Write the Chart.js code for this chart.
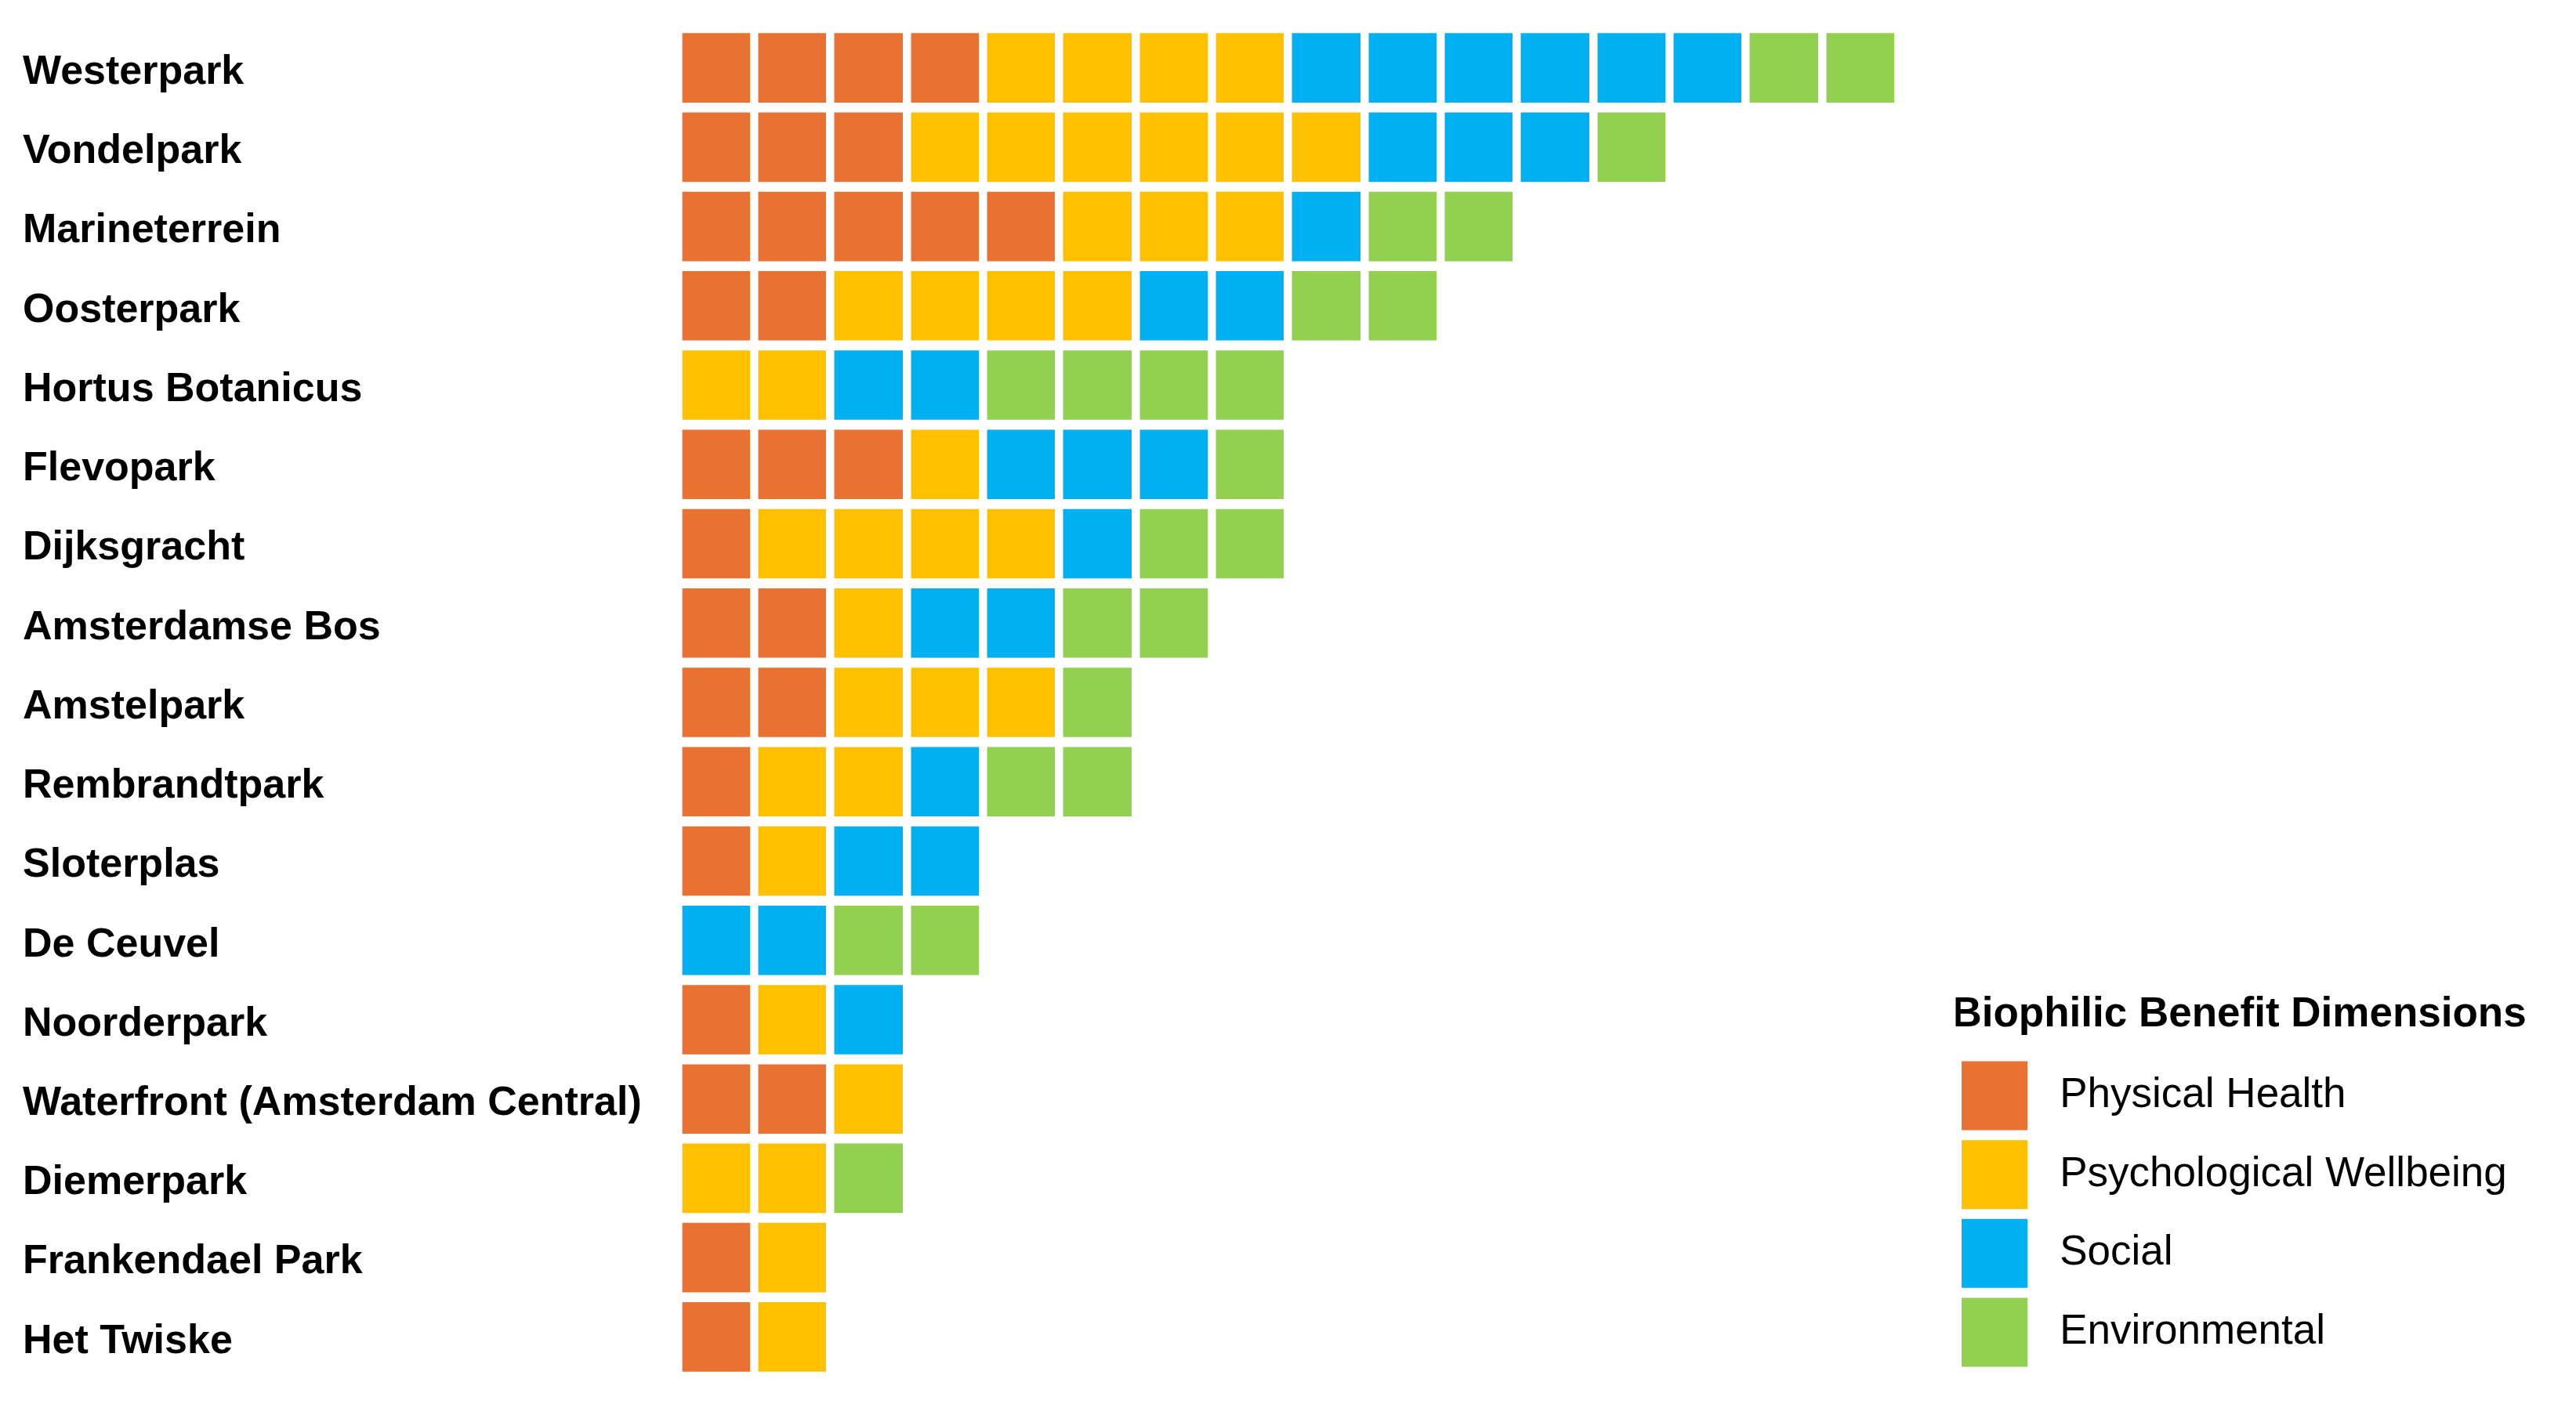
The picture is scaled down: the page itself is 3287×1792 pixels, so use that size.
<!DOCTYPE html>
<html>
<head>
<meta charset="utf-8">
<title>Biophilic Benefit Dimensions</title>
<script src="https://cdn.jsdelivr.net/npm/chart.js@4.4.1/dist/chart.umd.min.js"></script>
<style>
html,body{margin:0;padding:0;background:#fff}
#wrap{width:3287px;height:1792px}
</style>
</head>
<body>
<div id="wrap"><canvas id="waffle"></canvas></div>
<script>
// parks, top to bottom
const parks = ["Westerpark","Vondelpark","Marineterrein","Oosterpark","Hortus Botanicus","Flevopark","Dijksgracht","Amsterdamse Bos","Amstelpark","Rembrandtpark","Sloterplas","De Ceuvel","Noorderpark","Waterfront (Amsterdam Central)","Diemerpark","Frankendael Park","Het Twiske"]

// number of squares per dimension
const physical      = [4,3,5,2,0,3,1,2,2,1,1,0,1,2,0,1,1]
const psychological = [4,6,3,4,2,1,4,1,3,2,1,0,1,1,2,1,1]
const social        = [6,3,1,2,2,3,1,2,0,1,2,2,1,0,0,0,0]
const environmental = [2,1,2,2,4,1,2,2,1,2,0,2,0,0,1,0,0]

const dimensions = ["Physical Health","Psychological Wellbeing","Social","Environmental"]
const colors = ["#E97132","#FFC000","#00B0F0","#92D050"]

const series = [physical,psychological,social,environmental]

const FONT = "'Liberation Sans', Arial, Helvetica, sans-serif"
const NB = "\u00a0"

new Chart(document.getElementById("waffle"),{
type:"bar",
data:{
labels:parks,
datasets:series.map((d,i)=>({
label:dimensions[i],
data:d,
backgroundColor:colors[i],
borderColor:colors[i],
borderWidth:0,
barPercentage:0.875,
categoryPercentage:1
}))
},
options:{
indexAxis:"y",
responsive:true,
maintainAspectRatio:false,
devicePixelRatio:1,
animation:false,
layout:{padding:{left:29,right:34,top:36,bottom:35}},
scales:{
x:{
stacked:true,
min:0,
max:16.7,
// white lines on top of the bars cut them into squares
grid:{color:"#ffffff",lineWidth:10.5,z:1,drawTicks:false},
border:{display:false},
ticks:{display:false,stepSize:1,autoSkip:false}
},
y:{
stacked:true,
grid:{display:false},
border:{display:false},
ticks:{color:"#000",crossAlign:"far",labelOffset:6,font:{family:FONT,size:52,weight:"bold"}},
afterFit:(scale)=>{scale.width=836}
}
},
plugins:{
tooltip:{enabled:false},
legend:{
position:"right",
align:"end",
title:{display:true,text:"Biophilic Benefit Dimensions",position:"start",color:"#000",
font:{family:FONT,size:53,weight:"bold"},padding:{top:0,bottom:10}},
labels:{boxWidth:84,boxHeight:88,padding:12.6,color:"#000",font:{family:FONT,size:53},
// a little space before the text, and trailing room so the title is not clipped
generateLabels:(chart)=>Chart.defaults.plugins.legend.labels.generateLabels(chart)
.map(l=>({...l,text:NB+l.text+NB+NB+NB}))
}
}
}
}
})
</script>
</body>
</html>
